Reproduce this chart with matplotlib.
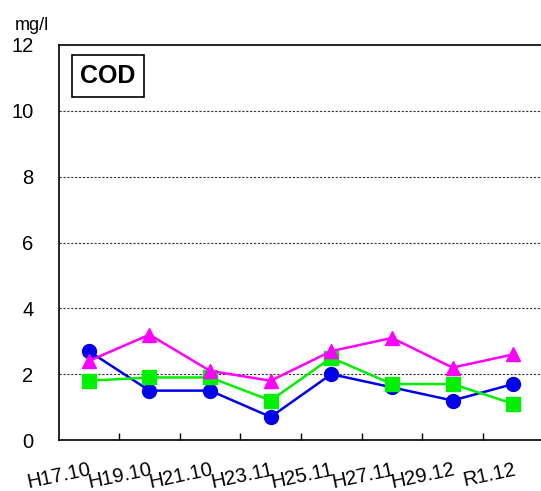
import matplotlib
matplotlib.use("Agg")
import matplotlib.pyplot as plt
import numpy as np

plt.rcParams['font.family'] = ['Liberation Sans', 'DejaVu Sans']

categories = ["H17.10", "H19.10", "H21.10", "H23.11", "H25.11", "H27.11", "H29.12", "R1.12"]
site_a = [2.7, 1.5, 1.5, 0.7, 2.0, 1.6, 1.2, 1.7]
site_b = [1.8, 1.9, 1.9, 1.2, 2.5, 1.7, 1.7, 1.1]
site_c = [2.4, 3.2, 2.1, 1.8, 2.7, 3.1, 2.2, 2.6]
y_ticks = [0, 2, 4, 6, 8, 10, 12]

W, H = 541, 491
fig = plt.figure(figsize=(W / 100, H / 100), dpi=100)
left, right, top, bottom = 58.5, 543.5, 45, 440
ax = fig.add_axes([left / W, 1 - bottom / H, (right - left) / W, (bottom - top) / H])

x = np.arange(len(categories))
ax.plot(x, site_a, color="#0000EE", lw=1.8, marker="o", ms=10, zorder=3)
ax.plot(x, site_b, color="#00F000", lw=1.8, marker="s", ms=10, zorder=4)
ax.plot(x, site_c, color="#FF00FF", lw=1.8, marker="^", ms=10, zorder=5)

ax.set_xlim(-0.5, len(categories) - 0.5)
ax.set_ylim(0, 12)
ax.set_yticks(y_ticks)
ax.set_yticklabels([str(v) for v in y_ticks], fontsize=14.5)
ax.tick_params(axis="y", length=0, pad=18)

for v in y_ticks[1:-1]:
    ax.axhline(v, color="#333333", lw=0.8, ls=(0, (2, 1.5)), zorder=1)

ax.set_xticks(np.arange(0.5, len(categories) - 1, 1))
ax.set_xticklabels([])
ax.tick_params(axis="x", direction="in", length=5, width=1)

for i, c in enumerate(categories):
    ax.text(i, -0.6, c, rotation=12, rotation_mode="anchor",
            ha="right", va="top", fontsize=14.5, transform=ax.transData, clip_on=False)

ax.spines["right"].set_visible(False)
for s in ["top", "left", "bottom"]:
    ax.spines[s].set_linewidth(1.2)

fig.text(15 / W, 1 - 26 / H, "mg/l", fontsize=13, va="center", ha="left")

ax.text(0.045, 0.921, "COD", transform=ax.transAxes, fontsize=18, fontweight="bold",
        va="center", ha="left",
        bbox=dict(boxstyle="square,pad=0.35", fc="white", ec="black", lw=1.2))

fig.savefig("out.png", dpi=100)
